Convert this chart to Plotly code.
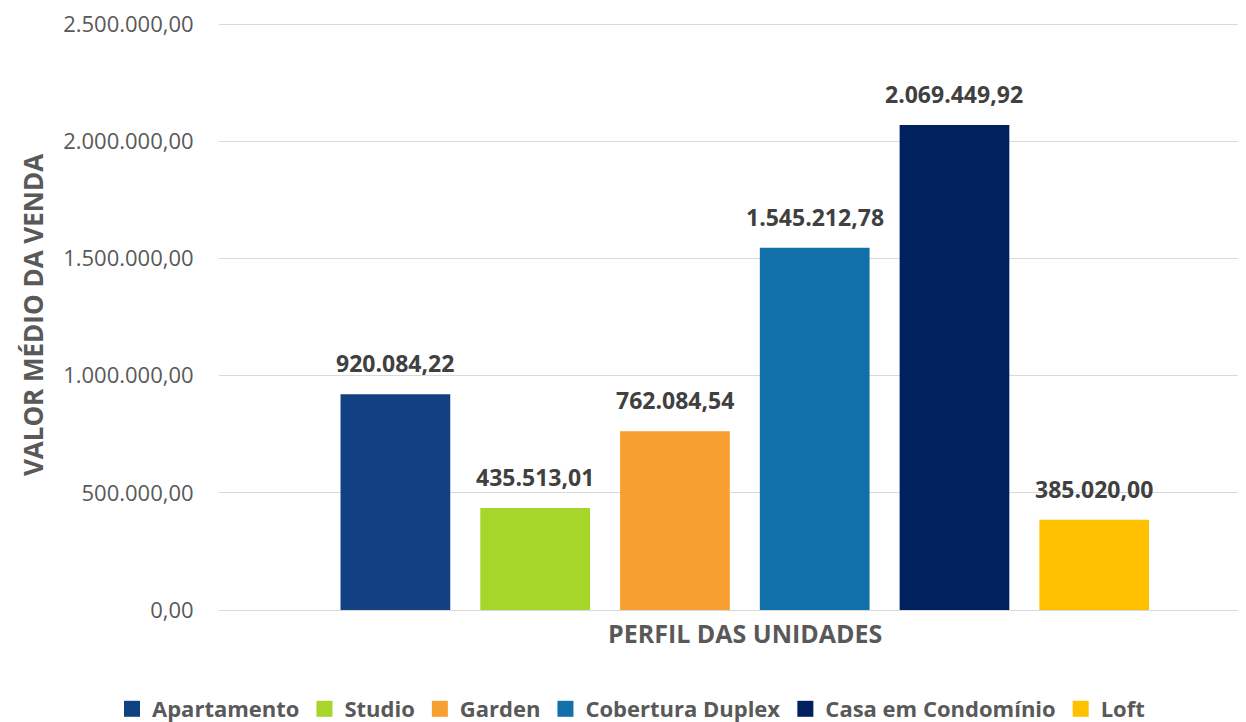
import plotly.graph_objects as go

categories = ["Apartamento", "Studio", "Garden", "Cobertura Duplex", "Casa em Condomínio", "Loft"]
values = [920084.22, 435513.01, 762084.54, 1545212.78, 2069449.92, 385020.00]
colors = ["#124183", "#A6D62A", "#F79F31", "#1170AA", "#00215E", "#FFC000"]
y_title = "VALOR MÉDIO DA VENDA"
x_title = "PERFIL DAS UNIDADES"
tick_vals = [0, 500000, 1000000, 1500000, 2000000, 2500000]
y_max = 2500000


def fmt_br(v):
    s = f"{v:,.2f}"
    return s.replace(",", "X").replace(".", ",").replace("X", ".")


FONT = "Open Sans"
fig = go.Figure()
for i, (c, v, col) in enumerate(zip(categories, values, colors)):
    fig.add_trace(go.Bar(
        x=[i], y=[v], name=c, marker=dict(color=col, line=dict(width=0)),
        width=0.785, hoverinfo="skip", showlegend=False, legendgroup=c,
    ))
    # legend entry with a square swatch
    fig.add_trace(go.Scatter(
        x=[None], y=[None], mode="markers", name=c, legendgroup=c,
        marker=dict(symbol="square", size=16, color=col), hoverinfo="skip",
    ))
    fig.add_annotation(
        x=i, y=v, xref="x", yref="y", text=f"<b>{fmt_br(v)}</b>",
        showarrow=False, yshift=31, font=dict(family=FONT, size=23, color="#404040"),
    )

fig.add_annotation(
    x=2.5, y=0, xref="x", yref="y", text=f"<b>{x_title}</b>", showarrow=False,
    yshift=-23, font=dict(family=FONT, size=25, color="#595959"),
)

fig.update_layout(
    width=1246, height=722,
    margin=dict(l=211, r=0, t=12, b=120, autoexpand=False),
    paper_bgcolor="white", plot_bgcolor="white",
    barmode="overlay",
    separators=",.",
    showlegend=True,
    legend=dict(
        orientation="h", xref="container", yref="container",
        x=0.5, xanchor="center", y=0.0, yanchor="bottom",
        font=dict(family=FONT, size=22, color="#595959", weight="bold"),
        itemwidth=30, traceorder="normal",
    ),
    xaxis=dict(
        range=[-1.262, 6.143], showticklabels=False, showgrid=False,
        zeroline=False, showline=False, ticks="",
    ),
    yaxis=dict(
        range=[0, y_max * 590 / 586], tickvals=tick_vals, tickformat=",.2f",
        showgrid=True, gridcolor="#D9D9D9", gridwidth=1,
        zeroline=True, zerolinecolor="#D9D9D9", zerolinewidth=1,
        showline=False, ticks="outside", ticklen=20, tickcolor="rgba(0,0,0,0)",
        tickfont=dict(family=FONT, size=22, color="#595959"),
        ticklabeloverflow="allow",
        automargin=False,
        title=dict(text=f"<b>{y_title}</b>", standoff=12,
                   font=dict(family=FONT, size=26, color="#595959")),
    ),
)

fig.write_html("out.html")
